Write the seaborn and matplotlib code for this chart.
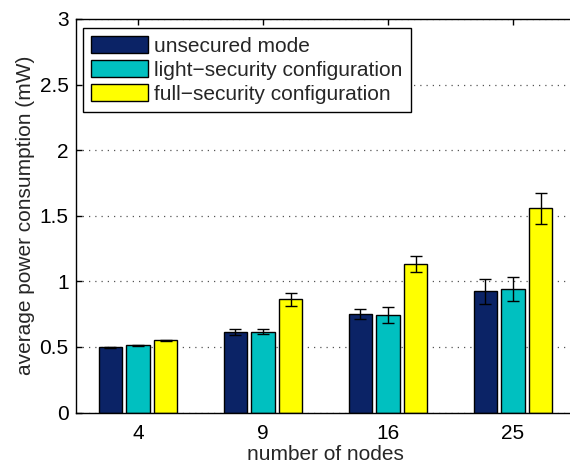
import numpy as np
import pandas as pd
import matplotlib
matplotlib.use('Agg')
from matplotlib import pyplot as plt
import seaborn as sns

nodes = ['4', '9', '16', '25']
modes = ['unsecured mode', 'light\u2212security configuration', 'full\u2212security configuration']
unsecured = [0.497, 0.614, 0.751, 0.924]
light = [0.513, 0.616, 0.746, 0.944]
full = [0.551, 0.863, 1.132, 1.556]
err_unsecured = [0.003, 0.025, 0.037, 0.097]
err_light = [0.003, 0.020, 0.061, 0.092]
err_full = [0.005, 0.048, 0.062, 0.120]
colors = ['#0b2366', '#00c0c0', '#ffff00']


def BuildFrame():
    rows = []
    for m, vals, errs in zip(modes, [unsecured, light, full], [err_unsecured, err_light, err_full]):
        for n, v, e in zip(nodes, vals, errs):
            rows.append({'nodes': n, 'mode': m, 'power': v, 'err': e})
    return pd.DataFrame(rows)


def MakePlot(pd_data):
    sns.set_style('white')
    plt.rcParams['font.family'] = ['Liberation Sans', 'DejaVu Sans']
    fs = 15
    plt.rcParams['font.size'] = fs
    fig = plt.figure(figsize=(5.7, 4.66), dpi=100)
    # axes runs a little past the right edge, like the original crop
    ax = fig.add_axes([75.5 / 570, 1 - 412.5 / 466, 500.0 / 570, 393.5 / 466])
    sns.barplot(data=pd_data, x='nodes', y='power', hue='mode', order=nodes,
                hue_order=modes, palette=colors, width=0.667, gap=0.17,
                errorbar=None, edgecolor='black', linewidth=1.0, ax=ax,
                saturation=1)
    # error bars at the bar centres
    for m, cont in zip(modes, ax.containers):
        sub = pd_data[pd_data['mode'] == m].set_index('nodes').loc[nodes]
        xs = [p.get_x() + p.get_width() / 2 for p in cont.patches]
        ax.errorbar(xs, sub['power'].values, yerr=sub['err'].values, fmt='none',
                    ecolor='black', elinewidth=1.0, capsize=4.3, capthick=1.0, zorder=5)
    ax.set_xlim(-0.5, 3.5)
    ax.set_ylim(0, 3)
    ax.set_yticks(np.arange(0, 3.01, 0.5))
    ax.set_yticklabels(['0', '0.5', '1', '1.5', '2', '2.5', '3'])
    ax.yaxis.grid(True, linestyle=(0, (1, 4)), color='#555555', linewidth=0.9)
    ax.xaxis.grid(False)
    ax.set_axisbelow(True)
    for s in ax.spines.values():
        s.set_visible(True)
        s.set_color('black')
        s.set_linewidth(1.0)
    ax.tick_params(direction='in', length=4, width=1, top=True, right=True,
                   bottom=True, left=True, labelsize=fs, pad=5, colors='black')
    ax.tick_params(axis='x', pad=8)
    ax.set_xlabel('number of nodes', fontsize=fs, labelpad=2)
    ax.set_ylabel('average power consumption (mW)', fontsize=fs, labelpad=3)
    leg = ax.legend(loc='upper left', bbox_to_anchor=(0.015, 0.977), frameon=True,
                    fancybox=False, edgecolor='black', framealpha=1,
                    fontsize=fs, handlelength=2.74, handleheight=0.87,
                    handletextpad=0.29, labelspacing=0.2, borderpad=0.4,
                    borderaxespad=0)
    leg.get_frame().set_linewidth(1.0)
    fig.savefig('out.png', dpi=100)


def main():
    pd_data = BuildFrame()
    MakePlot(pd_data)


if __name__ == '__main__':
    main()
